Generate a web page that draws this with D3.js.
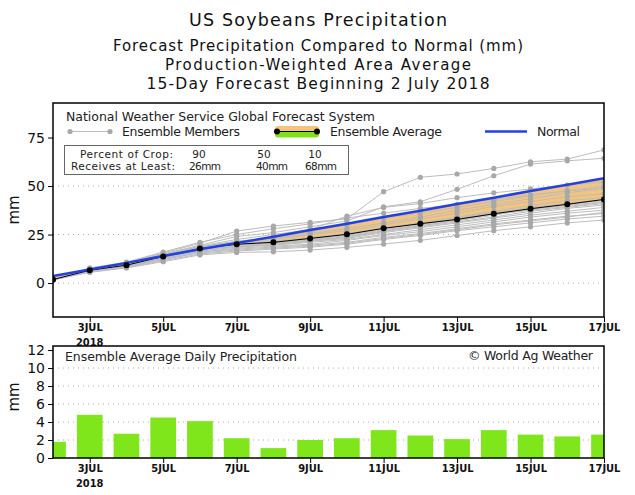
<!DOCTYPE html>
<html>
<head>
<meta charset="utf-8">
<script src="https://cdn.jsdelivr.net/npm/d3@7"></script>
<style>
  body { margin: 0; background: #fff; }
  svg { display: block; font-family: "DejaVu Sans", sans-serif; }
</style>
</head>
<body>
<script>
// forecast days (2 July .. 17 July 2018)
var dates = ["2018-07-02", "2018-07-03", "2018-07-04", "2018-07-05", "2018-07-06", "2018-07-07",
             "2018-07-08", "2018-07-09", "2018-07-10", "2018-07-11", "2018-07-12", "2018-07-13",
             "2018-07-14", "2018-07-15", "2018-07-16", "2018-07-17"];
var tickDates = ["2018-07-03", "2018-07-05", "2018-07-07", "2018-07-09",
                 "2018-07-11", "2018-07-13", "2018-07-15", "2018-07-17"];
var tickLabels = ["3JUL", "5JUL", "7JUL", "9JUL", "11JUL", "13JUL", "15JUL", "17JUL"];

// cumulative precipitation, mm
var ensembleAvg = [1.8, 6.6, 9.2, 13.7, 17.8, 20.0, 21.0, 23.0, 25.1, 28.2, 30.6, 32.8, 35.7, 38.3, 40.6, 43.1];
var normal = [3.6, 7.0, 10.4, 13.9, 17.4, 20.6, 23.9, 27.3, 30.6, 34.0, 37.3, 40.7, 44.0, 47.4, 50.7, 54.0];

// ensemble members, cumulative mm
var member01 = [1.7, 7.5, 10.5, 15.5, 20.5, 26.8, 29.4, 31.3, 33.0, 47.1, 54.5, 56.2, 59.1, 62.5, 63.9, 68.6];
var member02 = [1.7, 7.0, 10.0, 15.0, 19.5, 24.0, 26.0, 29.0, 32.0, 39.3, 41.9, 48.3, 55.3, 61.3, 63.0, 64.3];
var member03 = [1.8, 7.2, 10.2, 14.8, 19.0, 22.5, 25.0, 27.5, 34.5, 39.0, 41.0, 44.0, 46.5, 48.5, 50.5, 52.0];
var member04 = [1.7, 6.8, 9.8, 14.5, 18.5, 21.5, 23.5, 26.5, 30.0, 33.5, 36.0, 39.0, 42.0, 45.0, 47.5, 49.0];
var member05 = [1.6, 6.5, 9.5, 14.2, 18.5, 21.0, 22.5, 25.0, 27.0, 30.0, 33.0, 36.0, 39.5, 42.0, 44.5, 46.0];
var member06 = [1.7, 6.9, 9.2, 13.5, 18.0, 20.5, 21.5, 23.5, 25.5, 28.5, 31.0, 34.0, 37.0, 40.0, 42.5, 44.0];
var member07 = [1.7, 6.5, 9.0, 13.0, 17.0, 19.5, 20.5, 22.0, 24.0, 27.0, 29.5, 32.0, 35.0, 38.0, 40.0, 41.9];
var member08 = [1.8, 6.6, 8.8, 13.2, 17.5, 19.0, 20.0, 21.5, 23.0, 26.0, 28.5, 31.0, 33.5, 36.0, 38.5, 40.2];
var member09 = [1.7, 6.2, 8.5, 12.5, 16.5, 18.5, 19.5, 21.0, 22.5, 25.0, 27.5, 30.0, 32.5, 35.0, 37.0, 39.0];
var member10 = [1.6, 6.0, 8.5, 12.0, 16.0, 18.0, 19.0, 20.0, 22.0, 24.5, 26.5, 29.0, 31.5, 34.0, 36.0, 37.6];
var member11 = [1.7, 6.3, 8.7, 12.8, 16.0, 17.5, 18.5, 19.5, 21.0, 23.5, 25.5, 28.0, 30.5, 32.5, 34.5, 35.8];
var member12 = [1.6, 5.8, 8.0, 11.5, 15.0, 16.5, 17.5, 18.5, 20.0, 22.5, 24.5, 27.0, 29.0, 31.0, 33.0, 34.5];
var member13 = [1.7, 5.5, 7.8, 11.0, 14.5, 15.8, 16.1, 17.0, 18.4, 20.1, 22.0, 24.5, 27.0, 29.0, 31.0, 32.5];
var member14 = [1.8, 7.8, 10.8, 16.0, 21.0, 25.0, 28.0, 30.5, 33.5, 36.0, 38.5, 40.5, 43.0, 45.5, 47.5, 50.0];
var member15 = [1.7, 6.8, 9.5, 14.0, 18.0, 20.0, 21.0, 22.5, 24.5, 27.5, 30.0, 33.0, 36.0, 39.0, 41.0, 43.0];
var member16 = [1.6, 6.4, 9.0, 13.5, 17.0, 18.8, 19.8, 21.5, 23.5, 26.5, 29.0, 31.5, 34.0, 37.0, 39.0, 41.0];
var member17 = [1.7, 6.1, 8.2, 12.2, 15.5, 17.0, 18.0, 19.0, 20.5, 23.0, 25.0, 27.5, 30.0, 32.0, 34.0, 36.5];
var member18 = [1.7, 6.7, 9.3, 13.8, 17.8, 19.8, 20.8, 22.8, 25.0, 28.0, 30.5, 33.5, 36.5, 38.5, 40.5, 42.5];
var member19 = [1.7, 6.6, 9.1, 13.6, 17.6, 19.6, 20.6, 22.0, 23.8, 26.8, 29.5, 32.5, 35.5, 37.5, 39.5, 41.5];
var member20 = [1.7, 7.0, 9.8, 14.4, 18.8, 21.5, 23.0, 25.5, 28.0, 31.0, 34.0, 37.5, 40.5, 43.5, 46.5, 48.8];
var members = [member01, member02, member03, member04, member05, member06, member07, member08, member09, member10,
               member11, member12, member13, member14, member15, member16, member17, member18, member19, member20];

// daily ensemble average precipitation, mm
var dailyPrecip = [1.8, 4.8, 2.7, 4.5, 4.1, 2.2, 1.1, 2.0, 2.2, 3.1, 2.5, 2.1, 3.1, 2.6, 2.4, 2.6];

var cropPercent = ["90", "50", "10"];
var cropAmount = ["26mm", "40mm", "68mm"];

var titles = ["US Soybeans Precipitation",
              "Forecast Precipitation Compared to Normal (mm)",
              "Production-Weighted Area Average",
              "15-Day Forecast Beginning 2 July 2018"];

var svgWidth = 635;
var svgHeight = 495;

var plotLeft = 53, plotRight = 604;
var top1 = 103, bottom1 = 317;   // cumulative panel
var top2 = 346, bottom2 = 458;   // daily panel

var svg = d3.select("body").append("svg")
    .attr("width", svgWidth)
    .attr("height", svgHeight);

var parse = d3.utcParse("%Y-%m-%d");
var days = dates.map(parse);
var ticks = tickDates.map(parse);

var x = d3.scaleUtc()
    .domain([days[0], days[days.length - 1]])
    .range([plotLeft, plotRight]);

var y1 = d3.scaleLinear().domain([-17.5, 92.8]).range([bottom1, top1]);
var y2 = d3.scaleLinear().domain([0, 12.45]).range([bottom2, top2]);

// titles
var titleSpec = [
    { y: 26, size: 17.5, len: 258 },
    { y: 51, size: 15, len: 410 },
    { y: 70, size: 15, len: 306 },
    { y: 89, size: 15.5, len: 343 }
];
svg.selectAll(".title")
    .data(titles)
    .enter()
    .append("text")
    .attr("x", 318)
    .attr("y", (d, i) => titleSpec[i].y)
    .attr("text-anchor", "middle")
    .attr("font-size", (d, i) => titleSpec[i].size + "px")
    .attr("textLength", (d, i) => titleSpec[i].len)
    .attr("lengthAdjust", "spacing")
    .attr("fill", "#111")
    .text(d => d);

// clip paths
var defs = svg.append("defs");
defs.append("clipPath").attr("id", "clip1").append("rect")
    .attr("x", plotLeft).attr("y", top1).attr("width", plotRight - plotLeft).attr("height", bottom1 - top1);
defs.append("clipPath").attr("id", "clip2").append("rect")
    .attr("x", plotLeft).attr("y", top2).attr("width", plotRight - plotLeft).attr("height", bottom2 - top2);

// region below / above normal, used to colour the deficit / surplus band
var belowNormal = d3.area().x((d, i) => x(days[i])).y0(bottom1).y1(d => y1(d));
var aboveNormal = d3.area().x((d, i) => x(days[i])).y0(top1).y1(d => y1(d));
defs.append("clipPath").attr("id", "clipBelow").append("path").attr("d", belowNormal(normal));
defs.append("clipPath").attr("id", "clipAbove").append("path").attr("d", aboveNormal(normal));

// ---------- cumulative panel ----------
var g1 = svg.append("g");

g1.selectAll(".grid1")
    .data([0, 25, 50])
    .enter()
    .append("line")
    .attr("x1", plotLeft).attr("x2", plotRight)
    .attr("y1", d => y1(d)).attr("y2", d => y1(d))
    .attr("stroke", "#aaa")
    .attr("stroke-dasharray", "1,4");

var plot1 = g1.append("g").attr("clip-path", "url(#clip1)");

var band = d3.area()
    .x((d, i) => x(days[i]))
    .y0((d, i) => y1(normal[i]))
    .y1(d => y1(d));

plot1.append("g").attr("clip-path", "url(#clipBelow)")
    .append("path")
    .attr("d", band(ensembleAvg))
    .attr("fill", "#f5c47c");
plot1.append("g").attr("clip-path", "url(#clipAbove)")
    .append("path")
    .attr("d", band(ensembleAvg))
    .attr("fill", "#7fe01e");

var line = d3.line().x((d, i) => x(days[i])).y(d => y1(d));

plot1.selectAll(".member")
    .data(members)
    .enter()
    .append("path")
    .attr("d", d => line(d))
    .attr("fill", "none")
    .attr("stroke", "#bdbdbd")
    .attr("stroke-width", 1);

members.forEach(function (m) {
    plot1.append("g").selectAll("circle")
        .data(m)
        .enter()
        .append("circle")
        .attr("cx", (d, i) => x(days[i]))
        .attr("cy", d => y1(d))
        .attr("r", 2.6)
        .attr("fill", "#a8a8a8");
});

plot1.append("path")
    .attr("d", line(ensembleAvg))
    .attr("fill", "none")
    .attr("stroke", "#000")
    .attr("stroke-width", 1);

plot1.append("path")
    .attr("d", line(normal))
    .attr("fill", "none")
    .attr("stroke", "#2340e0")
    .attr("stroke-width", 2.5);

plot1.selectAll(".avgDot")
    .data(ensembleAvg)
    .enter()
    .append("circle")
    .attr("cx", (d, i) => x(days[i]))
    .attr("cy", d => y1(d))
    .attr("r", 3)
    .attr("fill", "#000");

// axes
var yAxis1 = d3.axisLeft(y1).tickValues([0, 25, 50, 75]).tickSize(5).tickPadding(3);
g1.append("g")
    .attr("transform", `translate(${plotLeft},0)`)
    .call(yAxis1)
    .call(g => g.select(".domain").remove())
    .call(g => g.selectAll("text").attr("font-size", "14px").attr("font-family", "DejaVu Sans").attr("fill", "#111"))
    .call(g => g.selectAll("line").attr("stroke", "#000"));

var xAxis = d3.axisBottom(x).tickValues(ticks).tickFormat((d, i) => tickLabels[i]).tickSize(5).tickPadding(1);
g1.append("g")
    .attr("transform", `translate(0,${bottom1})`)
    .call(xAxis)
    .call(g => g.select(".domain").remove())
    .call(g => g.selectAll("text").attr("font-size", "11px").attr("font-family", "DejaVu Sans Condensed")
        .attr("font-weight", "bold").attr("fill", "#111"))
    .call(g => g.selectAll("line").attr("stroke", "#000"));

g1.append("text")
    .attr("x", x(ticks[0])).attr("y", bottom1 + 28.5)
    .attr("text-anchor", "middle")
    .attr("font-size", "11px").attr("font-family", "DejaVu Sans Condensed").attr("font-weight", "bold")
    .attr("fill", "#111")
    .text("2018");

g1.append("text")
    .attr("transform", `translate(19,210) rotate(-90)`)
    .attr("text-anchor", "middle")
    .attr("font-size", "15px")
    .attr("fill", "#111")
    .text("mm");

g1.append("rect")
    .attr("x", plotLeft).attr("y", top1)
    .attr("width", plotRight - plotLeft).attr("height", bottom1 - top1)
    .attr("fill", "none").attr("stroke", "#000").attr("stroke-width", 1.5);

// legend
var leg = svg.append("g").attr("font-size", "12.5px").attr("fill", "#222");
leg.append("text").attr("x", 66).attr("y", 121).attr("textLength", 309).attr("lengthAdjust", "spacing")
    .text("National Weather Service Global Forecast System");

leg.append("line").attr("x1", 70).attr("x2", 110).attr("y1", 131.5).attr("y2", 131.5)
    .attr("stroke", "#bdbdbd").attr("stroke-width", 1);
leg.selectAll(".lm").data([70, 110]).enter().append("circle")
    .attr("cx", d => d).attr("cy", 131.5).attr("r", 2.6).attr("fill", "#a8a8a8");
leg.append("text").attr("x", 122).attr("y", 136).attr("textLength", 118).attr("lengthAdjust", "spacing")
    .text("Ensemble Members");

leg.append("rect").attr("x", 275).attr("y", 126).attr("width", 44).attr("height", 6)
    .attr("rx", 3).attr("fill", "#f5c47c");
leg.append("rect").attr("x", 275).attr("y", 131.5).attr("width", 44).attr("height", 6)
    .attr("rx", 3).attr("fill", "#7fe01e");
leg.append("line").attr("x1", 277).attr("x2", 317).attr("y1", 131.5).attr("y2", 131.5)
    .attr("stroke", "#000").attr("stroke-width", 1.2);
leg.selectAll(".la").data([277, 317]).enter().append("circle")
    .attr("cx", d => d).attr("cy", 131.5).attr("r", 3).attr("fill", "#000");
leg.append("text").attr("x", 330).attr("y", 136).attr("textLength", 112).attr("lengthAdjust", "spacing")
    .text("Ensemble Average");

leg.append("line").attr("x1", 485).attr("x2", 527).attr("y1", 131.5).attr("y2", 131.5)
    .attr("stroke", "#2340e0").attr("stroke-width", 2.5);
leg.append("text").attr("x", 537).attr("y", 136).attr("textLength", 43).attr("lengthAdjust", "spacing")
    .text("Normal");

// crop box
var crop = svg.append("g").attr("font-size", "10.5px").attr("fill", "#222");
crop.append("rect").attr("x", 64.5).attr("y", 145.5).attr("width", 284).attr("height", 29)
    .attr("fill", "#fff").attr("stroke", "#666").attr("stroke-width", 1);
crop.append("text").attr("x", 80).attr("y", 157.5).attr("textLength", 93).attr("lengthAdjust", "spacing")
    .text("Percent of Crop:");
crop.append("text").attr("x", 71).attr("y", 170).attr("textLength", 104).attr("lengthAdjust", "spacing")
    .text("Receives at Least:");
var pctX = [199, 264, 315];
var amtX = [205, 272, 321];
crop.selectAll(".cp").data(cropPercent).enter().append("text")
    .attr("x", (d, i) => pctX[i]).attr("y", 157.5).attr("text-anchor", "middle").text(d => d);
crop.selectAll(".ca").data(cropAmount).enter().append("text")
    .attr("x", (d, i) => amtX[i]).attr("y", 170).attr("text-anchor", "middle")
    .attr("textLength", 32).attr("lengthAdjust", "spacing").text(d => d);

// ---------- daily panel ----------
var g2 = svg.append("g");

g2.selectAll(".grid2")
    .data([2, 4, 6, 8, 10])
    .enter()
    .append("line")
    .attr("x1", plotLeft).attr("x2", plotRight)
    .attr("y1", d => y2(d)).attr("y2", d => y2(d))
    .attr("stroke", "#aaa")
    .attr("stroke-dasharray", "1,4");

var dayWidth = x(days[1]) - x(days[0]);
var barWidth = dayWidth * 0.7;

g2.append("g").attr("clip-path", "url(#clip2)")
    .selectAll("rect")
    .data(dailyPrecip)
    .enter()
    .append("rect")
    .attr("x", (d, i) => x(days[i]) - barWidth / 2)
    .attr("y", d => y2(d))
    .attr("width", barWidth)
    .attr("height", d => y2(0) - y2(d))
    .attr("fill", "#80e61c");

var yAxis2 = d3.axisLeft(y2).tickValues([0, 2, 4, 6, 8, 10, 12]).tickSize(5).tickPadding(3);
g2.append("g")
    .attr("transform", `translate(${plotLeft},0)`)
    .call(yAxis2)
    .call(g => g.select(".domain").remove())
    .call(g => g.selectAll("text").attr("font-size", "14px").attr("font-family", "DejaVu Sans").attr("fill", "#111"))
    .call(g => g.selectAll("line").attr("stroke", "#000"));

g2.append("g")
    .attr("transform", `translate(0,${bottom2})`)
    .call(xAxis)
    .call(g => g.select(".domain").remove())
    .call(g => g.selectAll("text").attr("font-size", "11px").attr("font-family", "DejaVu Sans Condensed")
        .attr("font-weight", "bold").attr("fill", "#111"))
    .call(g => g.selectAll("line").attr("stroke", "#000"));

g2.append("text")
    .attr("x", x(ticks[0])).attr("y", bottom2 + 28.5)
    .attr("text-anchor", "middle")
    .attr("font-size", "11px").attr("font-family", "DejaVu Sans Condensed").attr("font-weight", "bold")
    .attr("fill", "#111")
    .text("2018");

g2.append("text")
    .attr("transform", `translate(19,397) rotate(-90)`)
    .attr("text-anchor", "middle")
    .attr("font-size", "15px")
    .attr("fill", "#111")
    .text("mm");

g2.append("rect")
    .attr("x", plotLeft).attr("y", top2)
    .attr("width", plotRight - plotLeft).attr("height", bottom2 - top2)
    .attr("fill", "none").attr("stroke", "#000").attr("stroke-width", 1.5);

g2.append("text").attr("x", 65).attr("y", 361).attr("font-size", "12.5px").attr("fill", "#222")
    .attr("textLength", 232).attr("lengthAdjust", "spacing")
    .text("Ensemble Average Daily Precipitation");
g2.append("text").attr("x", 593).attr("y", 360).attr("font-size", "12.5px").attr("fill", "#222")
    .attr("text-anchor", "end").attr("textLength", 125).attr("lengthAdjust", "spacing")
    .text("© World Ag Weather");
</script>
</body>
</html>
